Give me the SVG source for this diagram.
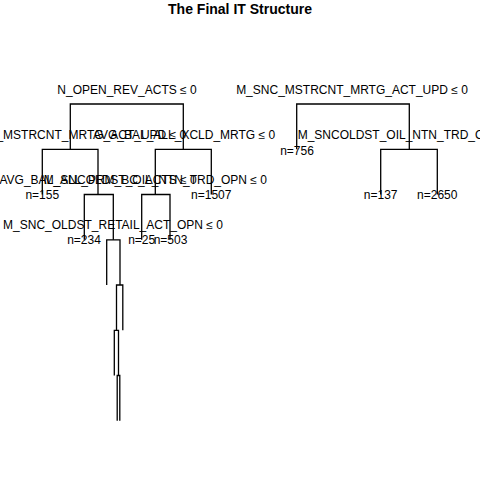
<svg xmlns="http://www.w3.org/2000/svg" width="480" height="480" viewBox="0 0 480 480">
<style>
text{font-family:"Liberation Sans",Arial,sans-serif;font-size:12px;fill:#000;text-anchor:middle}
.title{font-size:14px;font-weight:bold}
.e{fill:none;stroke:#000;stroke-width:1.3}
</style>
<rect width="480" height="480" fill="#fff"/>
<text class="title" x="240" y="14">The Final IT Structure</text>
<g id="connectors">
<path class="e" d="M70.3,149.3V104H183.3V149.3"/>
<path class="e" d="M42.3,194.5V149.3H98V194.5"/>
<path class="e" d="M84.3,239.8V194.5H113.3V239.8"/>
<path class="e" d="M106.7,285V239.8H120V285"/>
<path class="e" d="M116.5,330.3V285H122.8V330.3"/>
<path class="e" d="M114.3,375.5V330.3H118.5V375.5"/>
<path class="e" d="M117.2,420.8V375.5H119.8V420.8"/>
<path class="e" d="M155.3,194.5V149.3H211.3V194.5"/>
<path class="e" d="M141.7,239.8V194.5H170V239.8"/>
<path class="e" d="M296.7,149.3V104H409.3V149.3"/>
<path class="e" d="M380.7,194.5V149.3H437.3V194.5"/>
</g>
<g id="n1"><text x="127" y="94">N_OPEN_REV_ACTS ≤ 0</text></g>
<g id="n2"><text x="70.3" y="138.8">M_SNC_MSTRCNT_MRTG_ACT_UPD ≤ 0</text></g>
<g id="n3"><text x="184" y="138.8">AVG_BAL_ALL_XCLD_MRTG ≤ 0</text></g>
<g id="n4"><text x="42.3" y="199">n=155</text></g>
<g id="n5"><text x="98" y="184">AVG_BAL_ALL_PRM_BC_ACTS ≤ 0</text></g>
<g id="n6"><text x="155.3" y="184">M_SNCOLDST_OIL_NTN_TRD_OPN ≤ 0</text></g>
<g id="n7"><text x="211.3" y="199">n=1507</text></g>
<g id="n8"><text x="84" y="244.3">n=234</text></g>
<g id="n9"><text x="113" y="229.3">M_SNC_OLDST_RETAIL_ACT_OPN ≤ 0</text></g>
<g id="n10"><text x="141.7" y="244.3">n=25</text></g>
<g id="n11"><text x="170.5" y="244.3">n=503</text></g>
<g id="m1"><text x="352" y="94">M_SNC_MSTRCNT_MRTG_ACT_UPD ≤ 0</text></g>
<g id="m2"><text x="297" y="154.5">n=756</text></g>
<g id="m3"><text x="409.3" y="138.8">M_SNCOLDST_OIL_NTN_TRD_OPN ≤ 0</text></g>
<g id="m4"><text x="380.7" y="199">n=137</text></g>
<g id="m5"><text x="437.3" y="199">n=2650</text></g>
</svg>
